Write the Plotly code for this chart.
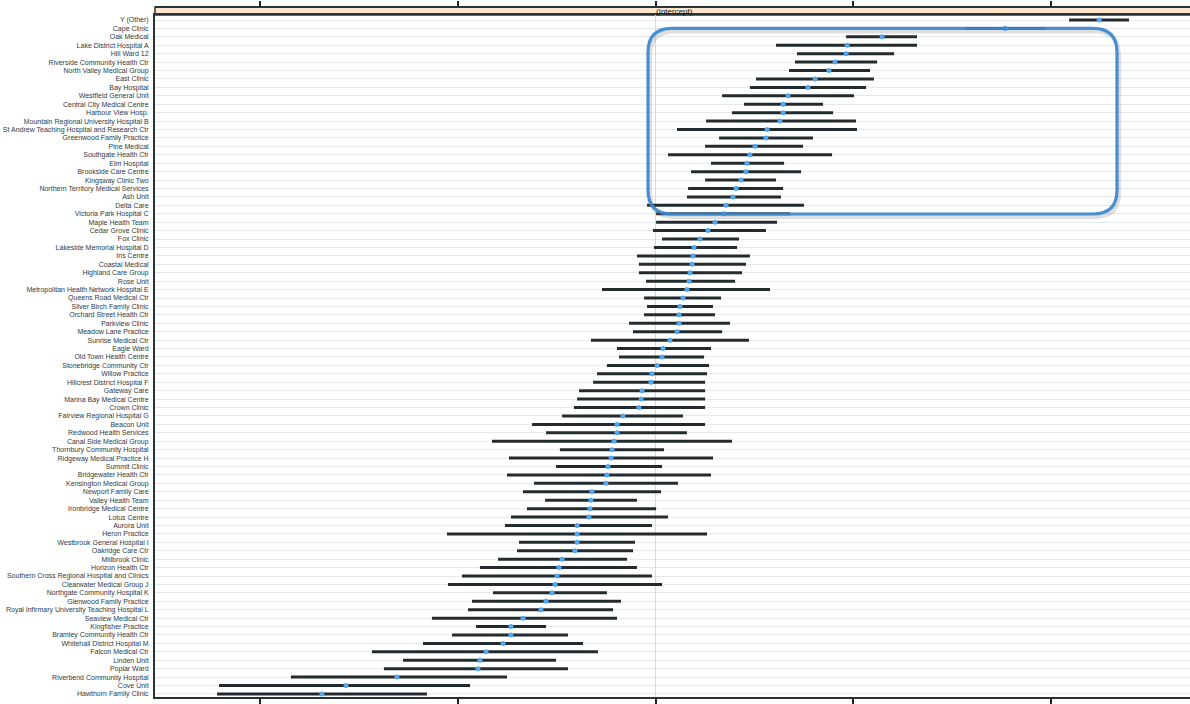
import plotly.graph_objects as go

# ---------------- data ----------------
labels = [
    "Y (Other)", "Cape Clinic", "Oak Medical", "Lake District Hospital A", "Hill Ward 12",
    "Riverside Community Health Ctr", "North Valley Medical Group", "East Clinic", "Bay Hospital",
    "Westfield General Unit", "Central City Medical Centre", "Harbour View Hosp.",
    "Mountain Regional University Hospital B", "St Andrew Teaching Hospital and Research Ctr",
    "Greenwood Family Practice", "Pine Medical", "Southgate Health Ctr", "Elm Hospital",
    "Brookside Care Centre", "Kingsway Clinic Two", "Northern Territory Medical Services",
    "Ash Unit", "Delta Care", "Victoria Park Hospital C", "Maple Health Team", "Cedar Grove Clinic",
    "Fox Clinic", "Lakeside Memorial Hospital D", "Iris Centre", "Coastal Medical",
    "Highland Care Group", "Rose Unit", "Metropolitan Health Network Hospital E",
    "Queens Road Medical Ctr", "Silver Birch Family Clinic", "Orchard Street Health Ctr",
    "Parkview Clinic", "Meadow Lane Practice", "Sunrise Medical Ctr", "Eagle Ward",
    "Old Town Health Centre", "Stonebridge Community Ctr", "Willow Practice",
    "Hillcrest District Hospital F", "Gateway Care", "Marina Bay Medical Centre",
    "Crown Clinic", "Fairview Regional Hospital G", "Beacon Unit", "Redwood Health Services",
    "Canal Side Medical Group", "Thornbury Community Hospital", "Ridgeway Medical Practice H",
    "Summit Clinic", "Bridgewater Health Ctr", "Kensington Medical Group", "Newport Family Care",
    "Valley Health Team", "Ironbridge Medical Centre", "Lotus Centre", "Aurora Unit",
    "Heron Practice", "Westbrook General Hospital I", "Oakridge Care Ctr", "Millbrook Clinic",
    "Horizon Health Ctr", "Southern Cross Regional Hospital and Clinics", "Clearwater Medical Group J",
    "Northgate Community Hospital K", "Glenwood Family Practice",
    "Royal Infirmary University Teaching Hospital L", "Seaview Medical Ctr", "Kingfisher Practice",
    "Bramley Community Health Ctr", "Whitehall District Hospital M", "Falcon Medical Ctr",
    "Linden Unit", "Poplar Ward", "Riverbend Community Hospital", "Cove Unit", "Hawthorn Family Clinic",
]

lower = [
    2.094, 1.567, 0.965, 0.610, 0.716, 0.706, 0.676, 0.509, 0.478, 0.337,
    0.448, 0.387, 0.256, 0.109, 0.322, 0.251, 0.063, 0.281, 0.180, 0.251,
    0.165, 0.159, -0.043, 0.003, 0.003, -0.013, 0.033, -0.008, -0.094, -0.084,
    -0.084, -0.048, -0.271, -0.058, -0.043, -0.058, -0.134, -0.114, -0.327, -0.195,
    -0.185, -0.246, -0.296, -0.316, -0.387, -0.397, -0.413, -0.473, -0.625, -0.554,
    -0.828, -0.484, -0.742, -0.504, -0.752, -0.615, -0.671, -0.559, -0.651, -0.732,
    -0.762, -1.056, -0.691, -0.701, -0.797, -0.889, -0.980, -1.051, -0.823, -0.929,
    -0.949, -1.132, -0.909, -1.030, -1.177, -1.435, -1.278, -1.375, -1.846, -2.210,
    -2.220,
]

estimate = [
    2.246, 1.770, 1.147, 0.970, 0.965, 0.909, 0.878, 0.808, 0.772, 0.671,
    0.646, 0.646, 0.630, 0.565, 0.559, 0.504, 0.478, 0.463, 0.458, 0.433,
    0.408, 0.392, 0.357, 0.347, 0.301, 0.266, 0.225, 0.195, 0.190, 0.185,
    0.175, 0.170, 0.159, 0.139, 0.124, 0.119, 0.119, 0.109, 0.073, 0.038,
    0.033, 0.008, -0.018, -0.023, -0.068, -0.073, -0.084, -0.165, -0.195, -0.195,
    -0.210, -0.220, -0.225, -0.241, -0.246, -0.251, -0.322, -0.327, -0.332, -0.337,
    -0.397, -0.397, -0.397, -0.408, -0.473, -0.489, -0.499, -0.509, -0.524, -0.554,
    -0.580, -0.671, -0.732, -0.732, -0.772, -0.858, -0.889, -0.899, -1.309, -1.567,
    -1.689,
]

upper = [
    2.397, 1.972, 1.324, 1.324, 1.208, 1.122, 1.086, 1.106, 1.066, 1.005,
    0.848, 0.899, 1.015, 1.020, 0.797, 0.747, 0.894, 0.651, 0.737, 0.610,
    0.646, 0.635, 0.752, 0.681, 0.615, 0.559, 0.423, 0.413, 0.478, 0.458,
    0.438, 0.403, 0.580, 0.332, 0.291, 0.301, 0.377, 0.337, 0.473, 0.281,
    0.246, 0.271, 0.261, 0.251, 0.251, 0.251, 0.251, 0.139, 0.251, 0.159,
    0.387, 0.043, 0.291, 0.033, 0.281, 0.114, 0.028, -0.094, 0.003, 0.063,
    -0.018, 0.261, -0.104, -0.114, -0.144, -0.094, -0.018, 0.033, -0.246, -0.175,
    -0.215, -0.195, -0.554, -0.443, -0.367, -0.291, -0.504, -0.443, -0.752, -0.939,
    -1.157,
]

x_ticks = [-2, -1, 0, 1, 2]
strip_label = "(Intercept)"

# ---------------- geometry / style ----------------
W, H = 1190, 704
ML, MR, MT, MB = 155, 0, 7, 7
PANEL_TOP_PX = 15
n = len(labels)
rows = list(range(1, n + 1))

paper_h = H - MT - MB
dom_top = (H - MB - PANEL_TOP_PX) / paper_h

def px(x):
    return (x - ML) / (W - ML - MR)

def py(y):
    return (H - MB - y) / paper_h

seg_x, seg_y = [], []
for r, lo, hi in zip(rows, lower, upper):
    seg_x += [lo, hi, None]
    seg_y += [r, r, None]

fig = go.Figure()
fig.add_trace(go.Scatter(
    x=seg_x, y=seg_y, mode="lines",
    line=dict(color="#242b2e", width=3), hoverinfo="skip", showlegend=False,
))
fig.add_trace(go.Scatter(
    x=estimate, y=rows, mode="markers",
    marker=dict(color="#52a8f0", size=5, line=dict(width=0)),
    hoverinfo="skip", showlegend=False,
))
# transparent copy that carries the top tick axis
fig.add_trace(go.Scatter(
    x=estimate, y=rows, mode="markers", xaxis="x2",
    marker=dict(opacity=0), hoverinfo="skip", showlegend=False,
))

xr = [-2.534, 2.706]
fig.update_layout(
    width=W, height=H,
    margin=dict(l=ML, r=MR, t=MT, b=MB, pad=0),
    paper_bgcolor="white", plot_bgcolor="white",
    hovermode=False,
    xaxis=dict(
        range=xr, tickvals=x_ticks, showticklabels=False,
        ticks="outside", ticklen=5, tickwidth=1.5, tickcolor="#222",
        showgrid=False, zeroline=True, zerolinecolor="#d8d8d8", zerolinewidth=1,
        showline=True, linecolor="#2a3436", linewidth=1.5, mirror=True,
        fixedrange=True,
    ),
    xaxis2=dict(
        range=xr, overlaying="x", side="top", anchor="free", position=1,
        tickvals=x_ticks, showticklabels=False,
        ticks="outside", ticklen=5, tickwidth=1.5, tickcolor="#222",
        showgrid=False, zeroline=False,
        showline=True, linecolor="#2a3436", linewidth=1.5,
    ),
    yaxis=dict(
        domain=[0, dom_top],
        range=[n + 0.36, 0.407],
        tickvals=rows, ticktext=labels,
        tickfont=dict(family="Liberation Sans, Arial, sans-serif", size=7, color="#2e3a44"),
        ticks="", showgrid=True, gridcolor="#e5e9ed", gridwidth=1,
        zeroline=False, showline=True, linecolor="#2a3436", linewidth=2,
        ticklabelstandoff=3, fixedrange=True,
    ),
)

# strip header
fig.add_shape(type="rect", xref="paper", yref="paper",
              x0=0, x1=1.01, y0=dom_top, y1=1,
              fillcolor="#ffe5cc", line=dict(color="#2a3436", width=1.5), layer="below")
fig.add_annotation(xref="paper", yref="paper", x=px(674), y=(dom_top + 1) / 2,
                   text=strip_label, showarrow=False,
                   font=dict(family="Liberation Sans, Arial, sans-serif", size=8, color="#111"),
                   xanchor="center", yanchor="middle")

# highlight rounded rectangle
def rounded_path(x0, y0, x1, y1, r, dx=0, dy=0):
    x0, x1, y0, y1 = x0 + dx, x1 + dx, y0 + dy, y1 + dy
    pts = [
        ("M", px(x0 + r), py(y0)),
        ("L", px(x1 - r), py(y0)),
        ("Q", px(x1), py(y0), px(x1), py(y0 + r)),
        ("L", px(x1), py(y1 - r)),
        ("Q", px(x1), py(y1), px(x1 - r), py(y1)),
        ("L", px(x0 + r), py(y1)),
        ("Q", px(x0), py(y1), px(x0), py(y1 - r)),
        ("L", px(x0), py(y0 + r)),
        ("Q", px(x0), py(y0), px(x0 + r), py(y0)),
    ]
    out = []
    for p in pts:
        cmd = p[0]
        coords = p[1:]
        out.append(cmd + " " + " ".join(
            f"{coords[i]:.5f},{coords[i+1]:.5f}" for i in range(0, len(coords), 2)))
    return " ".join(out) + " Z"

RECT = (648, 28.4, 1117, 214, 24)
fig.add_shape(type="path", xref="paper", yref="paper",
              path=rounded_path(*RECT, dx=2, dy=3),
              line=dict(color="rgba(110,110,110,0.22)", width=4), layer="above")
fig.add_shape(type="path", xref="paper", yref="paper",
              path=rounded_path(*RECT),
              line=dict(color="rgba(59,134,207,0.93)", width=3.2), layer="above")

fig.write_html("out.html")
